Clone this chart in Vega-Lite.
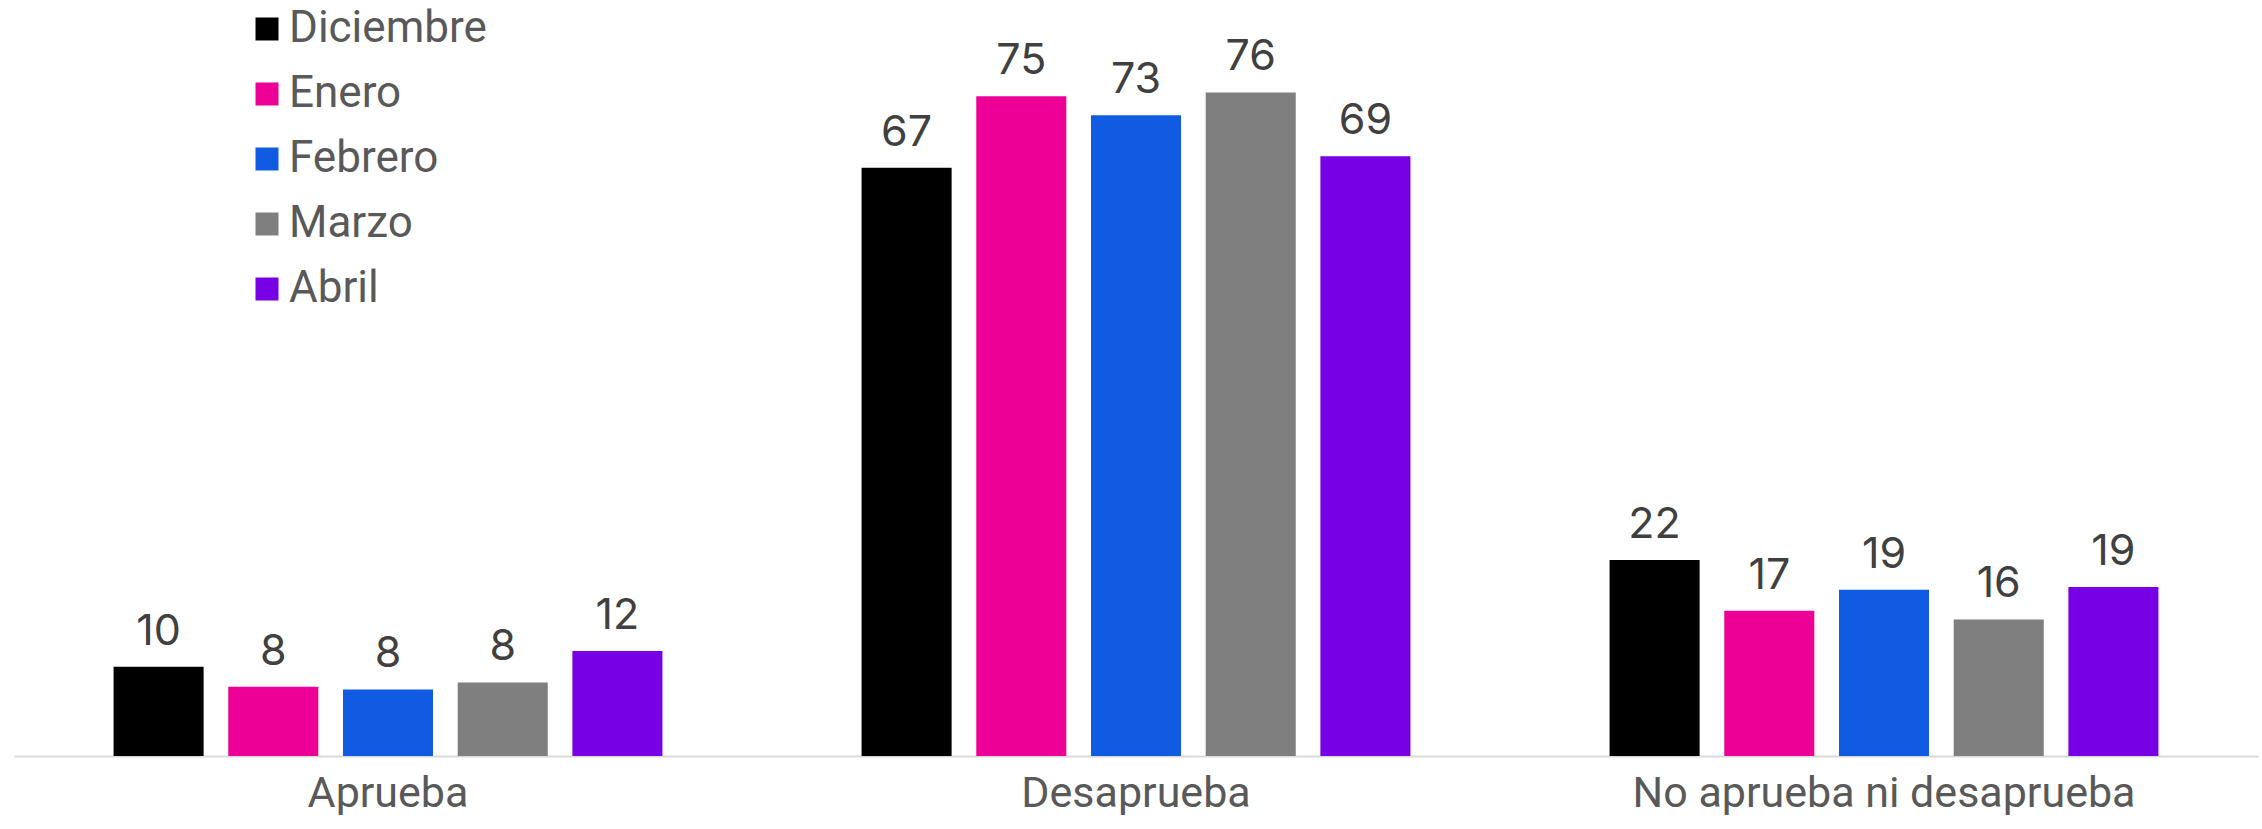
{
  "$schema": "https://vega.github.io/schema/vega-lite/v6.json",
  "width": 2244,
  "height": 745,
  "padding": {"left": 14, "top": 7, "right": 4, "bottom": 0},
  "background": "white",
  "config": {"view": {"stroke": null}},
  "data": {
    "values": [
      {"grupo": "Aprueba", "mes": "Diciembre", "valor": 10.2},
      {"grupo": "Aprueba", "mes": "Enero", "valor": 7.9},
      {"grupo": "Aprueba", "mes": "Febrero", "valor": 7.6},
      {"grupo": "Aprueba", "mes": "Marzo", "valor": 8.4},
      {"grupo": "Aprueba", "mes": "Abril", "valor": 12.0},
      {"grupo": "Desaprueba", "mes": "Diciembre", "valor": 67.2},
      {"grupo": "Desaprueba", "mes": "Enero", "valor": 75.35},
      {"grupo": "Desaprueba", "mes": "Febrero", "valor": 73.2},
      {"grupo": "Desaprueba", "mes": "Marzo", "valor": 75.8},
      {"grupo": "Desaprueba", "mes": "Abril", "valor": 68.5},
      {"grupo": "No aprueba ni desaprueba", "mes": "Diciembre", "valor": 22.4},
      {"grupo": "No aprueba ni desaprueba", "mes": "Enero", "valor": 16.6},
      {"grupo": "No aprueba ni desaprueba", "mes": "Febrero", "valor": 19.0},
      {"grupo": "No aprueba ni desaprueba", "mes": "Marzo", "valor": 15.6},
      {"grupo": "No aprueba ni desaprueba", "mes": "Abril", "valor": 19.3}
    ]
  },
  "encoding": {
    "x": {
      "field": "grupo", "type": "nominal", "sort": null, "title": null,
      "scale": {"paddingInner": 0, "paddingOuter": 0},
      "axis": {
        "labelAngle": 0, "ticks": false, "domainColor": "#d9d9d9", "domainWidth": 2,
        "labelFont": "Roboto", "labelFontSize": 43, "labelColor": "#595959",
        "labelPadding": 16, "labelBaseline": "top", "labelLimit": 0
      }
    },
    "xOffset": {
      "field": "mes", "type": "nominal", "sort": ["Diciembre", "Enero", "Febrero", "Marzo", "Abril"],
      "scale": {"paddingInner": 0.215, "paddingOuter": 0.868}
    },
    "y": {
      "field": "valor", "type": "quantitative", "title": null,
      "scale": {"domain": [0, 85.1], "nice": false},
      "axis": null
    }
  },
  "layer": [
    {
      "mark": {"type": "bar"},
      "encoding": {
        "color": {
          "field": "mes", "type": "nominal", "title": null,
          "sort": ["Diciembre", "Enero", "Febrero", "Marzo", "Abril"],
          "scale": {
            "domain": ["Diciembre", "Enero", "Febrero", "Marzo", "Abril"],
            "range": ["#000000", "#EC0096", "#115BE2", "#7F7F7F", "#7700E4"]
          },
          "legend": {
            "orient": "none", "legendX": 231, "legendY": -4,
            "symbolType": "square", "symbolSize": 529, "symbolStrokeWidth": 0,
            "labelFont": "Roboto", "labelFontSize": 44, "labelColor": "#595959",
            "labelOffset": 0, "rowPadding": 21, "padding": 0, "labelLimit": 0
          }
        }
      }
    },
    {
      "mark": {"type": "text", "baseline": "alphabetic", "dy": -22, "font": "Inter", "fontSize": 43, "color": "#404040"},
      "encoding": {
        "text": {"field": "valor", "type": "quantitative", "format": ".0f"}
      }
    }
  ]
}
